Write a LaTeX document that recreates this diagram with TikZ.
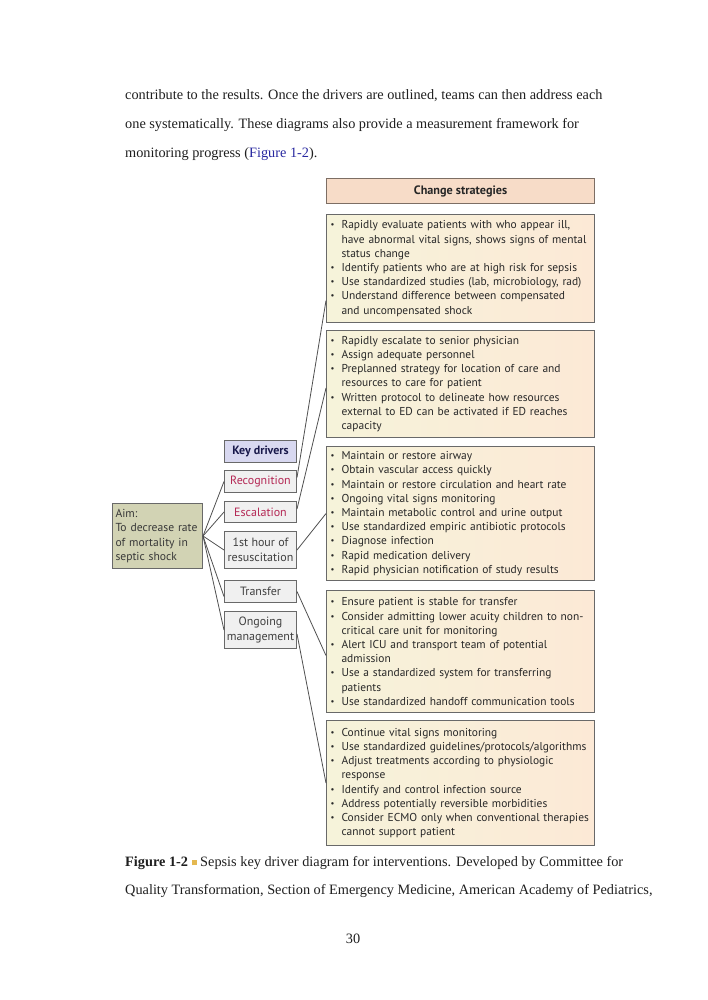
\documentclass[tikz,border=0pt]{standalone}
\usepackage{fontspec}
\setmainfont{Liberation Serif}
\newfontfamily\dsans{PT Sans}
\usetikzlibrary{calc}
\definecolor{linkblue}{RGB}{40,40,160}
\definecolor{sqgold}{RGB}{228,184,80}
\definecolor{sdraw}{RGB}{105,105,105}
\definecolor{sleft}{RGB}{246,243,218}
\definecolor{sright}{RGB}{252,233,214}
\definecolor{stext}{RGB}{40,40,40}
\definecolor{hdrfill}{RGB}{247,220,200}
\definecolor{hdrdraw}{RGB}{125,110,100}
\definecolor{kdfill}{RGB}{216,216,240}
\definecolor{kdtext}{RGB}{25,25,75}
\definecolor{drfill}{RGB}{240,240,240}
\definecolor{crimson}{RGB}{180,40,85}
\definecolor{aimfill}{RGB}{210,211,180}
\definecolor{conncol}{RGB}{80,80,80}
\newcommand\bul{\raisebox{0.15ex}{\scalebox{0.75}{•}}}
\newcommand\itm[1]{\mbox{\makebox[11pt][l]{\bul}#1}}
\newcommand\cnt[1]{\mbox{\hspace*{11pt}#1}}
\newcommand\goldsq{\raisebox{0.1ex}{\textcolor{sqgold}{\rule{5pt}{5pt}}}}
\begin{document}
\begin{tikzpicture}[x=1pt,y=-1pt,
  ptext/.style={anchor=base west, inner sep=0pt, font=\fontsize{14.3}{17}\selectfont, text=black!88},
  sbox/.style={draw=sdraw, line width=1.1pt, left color=sleft, right color=sright,
    anchor=north west, text width=260pt, inner xsep=4pt, inner ysep=1pt, align=left,
    font=\dsans\fontsize{11.45}{14.2}\selectfont, text=stext},
  hdr/.style={draw=hdrdraw, line width=1.1pt, fill=hdrfill, anchor=north west,
    minimum width=268pt, minimum height=25pt, inner sep=0pt,
    font=\dsans\bfseries\fontsize{12.2}{14}\selectfont, text=black!85},
  drv/.style={draw=sdraw, line width=1pt, fill=drfill, anchor=north west,
    minimum width=72pt, inner sep=0.5pt, align=center,
    font=\dsans\fontsize{12}{14.5}\selectfont, text=black!75},
  aimbox/.style={draw=sdraw, line width=1pt, fill=aimfill, anchor=north west,
    minimum width=90pt, minimum height=65pt, text width=84pt, inner xsep=3pt, inner ysep=1pt,
    align=left, font=\dsans\fontsize{11.6}{14.5}\selectfont, text=black!78},
  conn/.style={draw=conncol, line width=0.8pt}
]
\fill[white] (0,0) rectangle (707,1000);
\useasboundingbox (0,0) rectangle (707,1000);

% paragraph
\node[ptext] (p1) at (125,100) {contribute to the results. Once the drivers are outlined, teams can then address each};
\node[ptext] (p2) at (125,129) {one systematically. These diagrams also provide a measurement framework for};
\node[ptext] (p3) at (125,158) {monitoring progress (\textcolor{linkblue}{Figure 1-2}).};

% header
\node[hdr] (hdr) at (326,178) {Change strategies};

% strategy boxes
\node[sbox, minimum height=108pt] (b1) at (326,214) {%
\itm{Rapidly evaluate patients with who appear ill,}\\
\cnt{have abnormal vital signs, shows signs of mental}\\
\cnt{status change}\\
\itm{Identify patients who are at high risk for sepsis}\\
\itm{Use standardized studies (lab, microbiology, rad)}\\
\itm{Understand difference between compensated}\\
\cnt{and uncompensated shock}};

\node[sbox, minimum height=107pt] (b2) at (326,330) {%
\itm{Rapidly escalate to senior physician}\\
\itm{Assign adequate personnel}\\
\itm{Preplanned strategy for location of care and}\\
\cnt{resources to care for patient}\\
\itm{Written protocol to delineate how resources}\\
\cnt{external to ED can be activated if ED reaches}\\
\cnt{capacity}};

\node[sbox, minimum height=134pt] (b3) at (326,446) {%
\itm{Maintain or restore airway}\\
\itm{Obtain vascular access quickly}\\
\itm{Maintain or restore circulation and heart rate}\\
\itm{Ongoing vital signs monitoring}\\
\itm{Maintain metabolic control and urine output}\\
\itm{Use standardized empiric antibiotic protocols}\\
\itm{Diagnose infection}\\
\itm{Rapid medication delivery}\\
\itm{Rapid physician notification of study results}};

\node[sbox, minimum height=122pt] (b4) at (326,590) {%
\itm{Ensure patient is stable for transfer}\\
\itm{Consider admitting lower acuity children to non-}\\
\cnt{critical care unit for monitoring}\\
\itm{Alert ICU and transport team of potential}\\
\cnt{admission}\\
\itm{Use a standardized system for transferring}\\
\cnt{patients}\\
\itm{Use standardized handoff communication tools}};

\node[sbox, minimum height=125pt] (b5) at (326,720) {%
\itm{Continue vital signs monitoring}\\
\itm{Use standardized guidelines/protocols/algorithms}\\
\itm{Adjust treatments according to physiologic}\\
\cnt{response}\\
\itm{Identify and control infection source}\\
\itm{Address potentially reversible morbidities}\\
\itm{Consider ECMO only when conventional therapies}\\
\cnt{cannot support patient}};

% key drivers
\node[drv, fill=kdfill, minimum height=22pt, font=\dsans\bfseries\fontsize{12}{14}\selectfont, text=kdtext] (kd) at (224,440) {Key drivers};
\node[drv, minimum height=22pt, text=crimson] (recog) at (224,470) {Recognition};
\node[drv, minimum height=21pt, text=crimson] (escal) at (224,501) {Escalation};
\node[drv, minimum height=37pt] (first) at (224,531) {1st hour of\\resuscitation};
\node[drv, minimum height=22pt] (trans) at (224,580) {Transfer};
\node[drv, minimum height=37pt] (ongo) at (224,611) {Ongoing\\management};

% aim
\node[aimbox] (aim) at (112,503) {Aim:\\To decrease rate\\of mortality in\\septic shock};

% connectors aim -> drivers
\draw[conn] (aim.east) -- (recog.west);
\draw[conn] (aim.east) -- (escal.west);
\draw[conn] (aim.east) -- (first.west);
\draw[conn] (aim.east) -- ([yshift=-5pt]trans.west);
\draw[conn] (aim.east) -- (ongo.west);

% connectors drivers -> strategies
\draw[conn] ([yshift=4pt]recog.east) -- ([yshift=-32pt]b1.west);
\draw[conn] ([yshift=3pt]escal.east) -- ([yshift=-4pt]b2.west);
\draw[conn] (first.east) -- (b3.west);
\draw[conn] (trans.east) -- ([yshift=-4pt]b4.west);
\draw[conn] ([yshift=-4pt]ongo.east) -- (b5.west);

% caption
\node[ptext] (c1) at (125,866) {\textbf{Figure 1-2} \goldsq{} Sepsis key driver diagram for interventions. Developed by Committee for};
\node[ptext] (c2) at (125,894) {Quality Transformation, Section of Emergency Medicine, American Academy of Pediatrics,};

% page number
\node[anchor=base, inner sep=0pt, font=\fontsize{14.3}{17}\selectfont, text=black!88] (pg) at (353,943) {30};
\end{tikzpicture}
\end{document}
